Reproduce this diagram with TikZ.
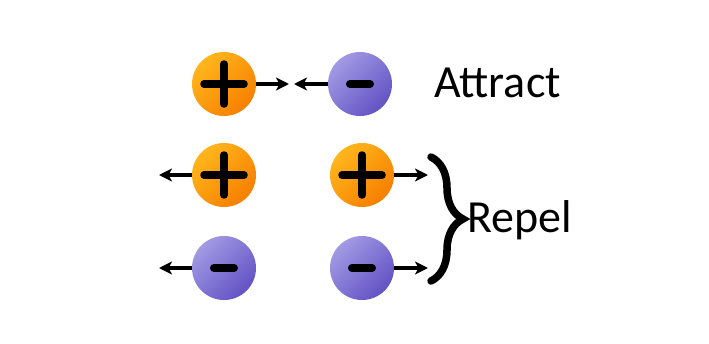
\documentclass[tikz,border=0pt]{standalone}
\usepackage{fontspec}
\setmainfont{Carlito}
\usetikzlibrary{arrows.meta,decorations.pathreplacing}
\definecolor{orgA}{HTML}{FFB61C}
\definecolor{orgB}{HTML}{F77F00}
\definecolor{purA}{HTML}{A29AE4}
\definecolor{purB}{HTML}{6252C4}
\tikzset{
  charge/.style={circle,minimum size=64pt,inner sep=0pt},
  poscharge/.style={charge,top color=orgA,bottom color=orgB,shading angle=45,
    path picture={\draw[line width=7.5pt,line cap=round]
      ([xshift=-20pt]path picture bounding box.center) -- ([xshift=20pt]path picture bounding box.center)
      ([yshift=-20pt]path picture bounding box.center) -- ([yshift=20pt]path picture bounding box.center);}},
  negcharge/.style={charge,top color=purA,bottom color=purB,shading angle=45,
    path picture={\draw[line width=8pt,line cap=round]
      ([xshift=-10pt]path picture bounding box.center) -- ([xshift=10pt]path picture bounding box.center);}},
  force/.style={line width=3.2pt,-{Stealth[length=13pt,width=13pt,inset=3.5pt]}},
  lbl/.style={font=\fontsize{46}{50}\selectfont,inner sep=0pt,anchor=base west}
}
\begin{document}
\begin{tikzpicture}[x=1pt,y=-1pt]
\useasboundingbox (0,0) rectangle (709,343);
\node[poscharge] (p1) at (224,84) {};
\node[negcharge] (n1) at (360,84) {};
\node[poscharge] (p2) at (224,175) {};
\node[poscharge] (p3) at (362,175) {};
\node[negcharge] (n2) at (224,268) {};
\node[negcharge] (n3) at (362,268) {};
\coordinate (a1) at (289,84);
\coordinate (a2) at (294,84);
\coordinate (b1) at (159,175);
\coordinate (b2) at (428,175);
\coordinate (c1) at (159,268);
\coordinate (c2) at (428,268);
\draw[force] (p1.east) -- (a1);
\draw[force] (n1.west) -- (a2);
\draw[force] (p2.west) -- (b1);
\draw[force] (p3.east) -- (b2);
\draw[force] (n2.west) -- (c1);
\draw[force] (n3.east) -- (c2);
\coordinate (brT) at (431,157);
\coordinate (brB) at (431,281);
\draw[line width=7.5pt,line cap=round,decorate,decoration={brace,amplitude=32pt,aspect=0.5}] (brT) -- (brB);
\node[lbl] (attract) at (434,97) {Attract};
\node[lbl] (repel) at (467,232) {Repel};
\end{tikzpicture}
\end{document}
